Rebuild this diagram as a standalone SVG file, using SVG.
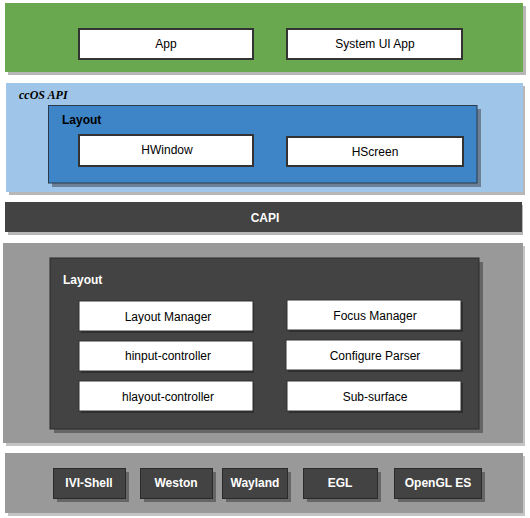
<svg xmlns="http://www.w3.org/2000/svg" width="530" height="518" viewBox="0 0 530 518">
<style>
text{font-family:"Liberation Sans",Arial,sans-serif;font-size:12px;text-anchor:middle;dominant-baseline:central}
.w{fill:#ffffff;stroke:#333333;stroke-width:2}
.w1{fill:#ffffff;stroke:#333333;stroke-width:1}
.sh{fill:#b7b7b7}
.d{fill:#434343;stroke:#2a2a2a;stroke-width:1}
.wt{fill:#ffffff;font-weight:bold}
.lbl{font-weight:bold;text-anchor:start}
</style>
<rect width="530" height="518" fill="#ffffff"/>
<g id="apps-layer">
<rect x="8" y="6" width="518" height="69" class="sh"/>
<rect x="5" y="3" width="518" height="69" fill="#6aa84f"/>
</g>
<g id="app"><rect x="79" y="29" width="174" height="30" class="w"/><text x="166" y="44">App</text></g>
<g id="system-ui-app"><rect x="287" y="29" width="175" height="30" class="w"/><text x="375" y="44">System UI App</text></g>
<g id="ccos-api">
<rect x="9" y="86" width="516" height="109" class="sh"/>
<rect x="6" y="83" width="517" height="109" fill="#9fc5e8"/>
<text x="19" y="95" style="font-family:'Liberation Serif','Times New Roman',serif;font-style:italic;font-weight:bold;font-size:12px;text-anchor:start">ccOS API</text>
</g>
<g id="layout-api">
<rect x="52" y="109" width="429" height="78" fill="#6b8096"/>
<rect x="48.5" y="105.5" width="428.5" height="77.5" fill="#3d85c6" stroke="#2a3a4a" stroke-width="1"/>
<text x="62" y="120" class="lbl">Layout</text>
</g>
<g id="hwindow"><rect x="81" y="136" width="173" height="31" fill="#b0b0b0"/><rect x="79" y="135" width="174" height="31" class="w"/><text x="167" y="150">HWindow</text></g>
<g id="hscreen"><rect x="287" y="137" width="176" height="29" class="w"/><text x="375" y="152">HScreen</text></g>
<g id="capi">
<rect x="8" y="205" width="515" height="30" class="sh"/>
<rect x="5" y="202" width="517" height="30" fill="#434343"/>
<text x="265" y="218" class="wt">CAPI</text>
</g>
<g id="layout-impl-layer">
<rect x="6" y="246" width="519" height="200" fill="#c4c4c4"/>
<rect x="3" y="243" width="520" height="200" fill="#999999"/>
</g>
<g id="layout-impl">
<rect x="54" y="262" width="429" height="171" fill="#666666"/>
<rect x="50" y="258" width="429" height="171" class="d"/>
<text x="63" y="280" class="wt" style="text-anchor:start">Layout</text>
</g>
<g id="layout-manager"><rect x="81" y="303" width="173" height="30" fill="#2e2e2e"/><rect x="79" y="301" width="174" height="30" class="w1"/><text x="168" y="317">Layout Manager</text></g>
<g id="focus-manager"><rect x="289" y="302" width="174" height="30" fill="#2e2e2e"/><rect x="287" y="300" width="174" height="30" class="w1"/><text x="375" y="316">Focus Manager</text></g>
<g id="hinput-controller"><rect x="81" y="343" width="173" height="30" fill="#2e2e2e"/><rect x="79" y="341" width="174" height="30" class="w1"/><text x="168" y="356">hinput-controller</text></g>
<g id="configure-parser"><rect x="288" y="342" width="175" height="30" fill="#2e2e2e"/><rect x="286" y="340" width="175" height="30" class="w1"/><text x="375" y="356">Configure Parser</text></g>
<g id="hlayout-controller"><rect x="81" y="383" width="173" height="30" fill="#2e2e2e"/><rect x="79" y="381" width="174" height="30" class="w1"/><text x="168" y="397">hlayout-controller</text></g>
<g id="sub-surface"><rect x="289" y="383" width="174" height="30" fill="#2e2e2e"/><rect x="287" y="381" width="174" height="30" class="w1"/><text x="375" y="397">Sub-surface</text></g>
<g id="platform-layer">
<rect x="8" y="456" width="517" height="60" fill="#c4c4c4"/>
<rect x="5" y="453" width="518" height="60" fill="#999999"/>
</g>
<g id="ivi-shell"><rect x="57" y="472" width="72" height="30" fill="#666666"/><rect x="53.5" y="468.5" width="72" height="30" class="d"/><text x="89" y="483" class="wt">IVI-Shell</text></g>
<g id="weston"><rect x="144" y="472" width="72" height="30" fill="#666666"/><rect x="140.5" y="468.5" width="72" height="30" class="d"/><text x="176" y="483" class="wt">Weston</text></g>
<g id="wayland"><rect x="226" y="472" width="65" height="30" fill="#666666"/><rect x="222.5" y="468.5" width="65" height="30" class="d"/><text x="255" y="483" class="wt">Wayland</text></g>
<g id="egl"><rect x="307" y="472" width="74" height="30" fill="#666666"/><rect x="303.5" y="468.5" width="74" height="30" class="d"/><text x="340" y="483" class="wt">EGL</text></g>
<g id="opengl-es"><rect x="398" y="472" width="87" height="30" fill="#666666"/><rect x="394.5" y="468.5" width="87" height="30" class="d"/><text x="438" y="483" class="wt">OpenGL ES</text></g>
<g id="connectors"></g>
</svg>
